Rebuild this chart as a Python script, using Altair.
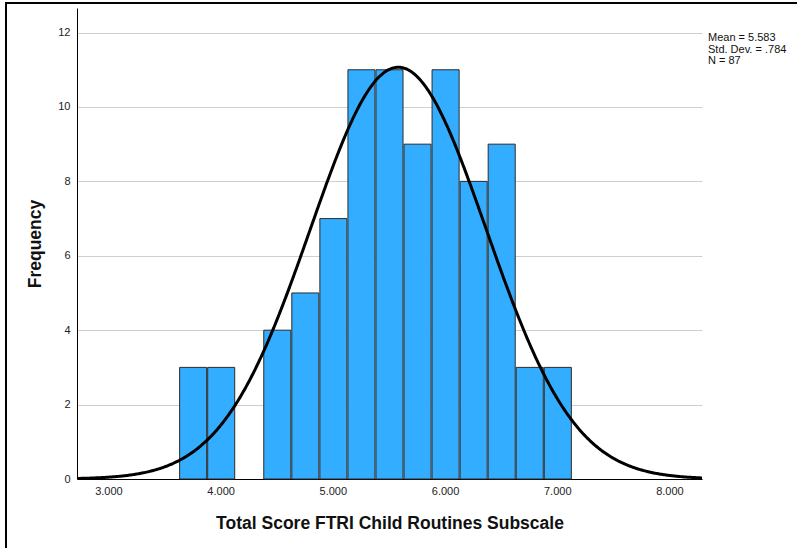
import altair as alt
import pandas as pd

# Histogram bins (lower edges), common bin width and counts
bin_start = [3.63, 3.88, 4.38, 4.63, 4.88, 5.13, 5.38, 5.63, 5.88, 6.13, 6.38, 6.63, 6.88]
bin_width = 0.25
frequency = [3, 3, 4, 5, 7, 11, 11, 9, 11, 8, 9, 3, 3]

# Summary statistics of the scale scores
mean = 5.583
std_dev = 0.784
n_cases = 87

x_ticks = [3, 4, 5, 6, 7, 8]
y_ticks = [0, 2, 4, 6, 8, 10, 12]
x_domain = [2.72, 8.29]
y_domain = [0, 12.66]

bars = pd.DataFrame({
    "start": bin_start,
    "end": [s + bin_width for s in bin_start],
    "count": frequency,
})

stats_lines = [
    f"Mean = {mean:.3f}",
    "Std. Dev. = " + f"{std_dev:.3f}".lstrip("0"),
    f"N = {n_cases}",
]

FONT = "Liberation Sans"

x_scale = alt.Scale(domain=x_domain, nice=False, zero=False)
y_scale = alt.Scale(domain=y_domain, nice=False)

hist = alt.Chart(bars).mark_bar(
    color="#33adff", stroke="#2b2b2b", strokeWidth=1, xOffset=0.5, x2Offset=-0.5
).encode(
    x=alt.X("start:Q", scale=x_scale,
            axis=alt.Axis(values=x_ticks, format=".3f", grid=False, ticks=False,
                          title="Total Score FTRI Child Routines Subscale",
                          labelPadding=6, titlePadding=18)),
    x2="end:Q",
    y=alt.Y("count:Q", scale=y_scale,
            axis=alt.Axis(values=y_ticks, format="d", grid=True, ticks=False,
                          title="Frequency", labelPadding=7, titlePadding=13)),
    y2=alt.datum(0),
)

# Fitted normal curve scaled to counts: N * bin width * pdf(x)
curve = alt.Chart(alt.sequence(x_domain[0], x_domain[1] + 0.005, 0.01, as_="x")).transform_calculate(
    y=f"{n_cases * bin_width} * exp(-0.5 * pow((datum.x - {mean}) / {std_dev}, 2)) / ({std_dev} * sqrt(2 * PI))"
).mark_line(color="black", strokeWidth=3, clip=True).encode(
    x=alt.X("x:Q", scale=x_scale),
    y=alt.Y("y:Q", scale=y_scale),
)

stats = alt.Chart(pd.DataFrame({"k": [0]})).mark_text(
    align="left", baseline="top", font=FONT, fontSize=11, lineHeight=11.5, color="#111"
).encode(
    x=alt.value(631),
    y=alt.value(24),
    text=alt.value(stats_lines),
)

frame = alt.Chart(pd.DataFrame({"k": [0]})).mark_rect(
    fill=None, stroke="black", strokeWidth=2, clip=False
).encode(
    x=alt.value(-71), x2=alt.value(760), y=alt.value(-5), y2=alt.value(560),
)

chart = alt.layer(hist, curve, stats, frame).properties(
    width=625,
    height=471,
    autosize=alt.AutoSizeParams(type="none"),
    padding={"left": 77, "top": 8, "right": 95, "bottom": 69},
).configure_view(
    stroke=None
).configure_scale(
    continuousPadding=0
).configure_axis(
    labelFont=FONT, titleFont=FONT, labelFontSize=11, labelColor="#222",
    titleFontSize=17.5, titleFontWeight="bold", titleColor="#111",
    domainColor="black", domainWidth=1, gridColor="#cfcfcf", gridWidth=1,
)

chart.save("out.html", embed_options={"renderer": "svg", "actions": False})
